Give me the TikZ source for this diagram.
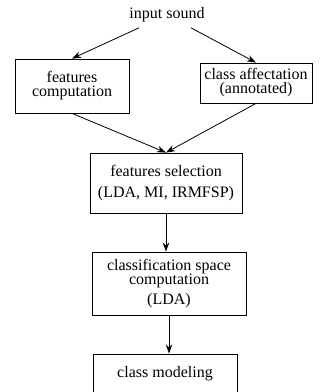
\documentclass[tikz,border=0pt]{standalone}
\usepackage{fontspec}
\setmainfont{Liberation Serif}
\usetikzlibrary{arrows.meta,positioning}

\begin{document}
\begin{tikzpicture}[
  x=0.75pt, y=-0.75pt,
  font=\fontsize{12}{10.5}\selectfont,
  stage/.style={draw=black, line width=0.6pt, fill=white, align=center, inner sep=2pt},
  io/.style={align=center, inner sep=4pt},
  >={Stealth[length=2.4mm, width=1.7mm]},
  flow/.style={->, line width=0.6pt, draw=black},
]
\useasboundingbox (0,0) rectangle (320,392);
\clip (0,0) rectangle (320,392);
% ----- input -----
\node[io] (in) at (167,15) {input sound};
% ----- first row -----
\node[stage, minimum width=85.5pt, minimum height=40.5pt] (feat) at (72,86) {features\\computation};
\node[stage, minimum width=84pt, minimum height=30pt] (aff) at (256,83) {class affectation\\(annotated)};
\draw[flow] (in)--(feat.north); \draw[flow] (in)--(aff.north);
% ----- selection -----
\node[stage, minimum width=114pt, minimum height=45pt] (sel) at (166,183) {features selection\\[5pt](LDA, MI, IRMFSP)};
\draw[flow] (feat.south)--(sel.north); \draw[flow] (aff.south)--(sel.north);
% ----- classification space -----
\node[stage, minimum width=115.5pt, minimum height=47.25pt] (space) at (169,283.5) {classification space\\computation\\[3pt](LDA)};
\draw[flow] (sel.south)--(sel.south |- space.north);
% ----- class modeling -----
\node[stage, minimum width=108pt, minimum height=30pt] (model) at (165,374) {class modeling};
\draw[flow] (space.south)--(space.south |- model.north);
\end{tikzpicture}
\end{document}
